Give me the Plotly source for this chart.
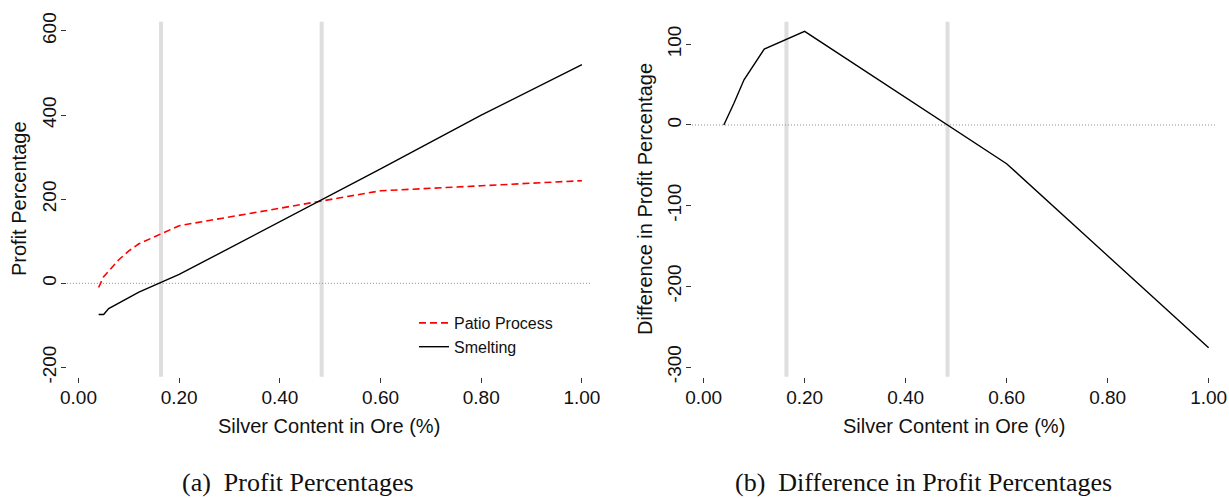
import plotly.graph_objects as go

# ---------------- data ----------------
silver_pct = [0.04, 0.05, 0.06, 0.08, 0.10, 0.12, 0.20, 0.40, 0.60, 0.80, 1.00]
patio_profit = [-10, 16, 29, 56, 77, 94, 137, 178, 220, 232, 244]
smelting_profit = [-74, -74, -60, -47, -34, -21, 21, 146, 272, 400, 520]

diff_silver_pct = [0.04, 0.05, 0.06, 0.08, 0.10, 0.12, 0.20, 0.40, 0.60, 0.80, 1.00]
diff_profit = [0, 13, 27, 56, 75, 94, 116, 34, -48, -162, -276]

crossover_x = [0.164, 0.483]

x_ticks = [0.0, 0.2, 0.4, 0.6, 0.8, 1.0]
x_tick_labels = ["0.00", "0.20", "0.40", "0.60", "0.80", "1.00"]
left_y_ticks = [-200, 0, 200, 400, 600]
left_y_labels = ["-200", "0", "200", "400", "600"]
right_y_ticks = [-300, -200, -100, 0, 100]
right_y_labels = ["-300", "-200", "-100", "0", "100"]

# ---------------- layout helpers ----------------
W, H = 1229, 498


def px_x(p):
    return p / W


def px_y(p):
    return (H - p) / H


SANS = "Liberation Sans, Arial, Helvetica, sans-serif"
SERIF = "Liberation Serif, Times New Roman, serif"
TICK_FONT = dict(family=SANS, size=19, color="#111")

fig = go.Figure()

fig.add_trace(go.Scatter(
    x=silver_pct, y=patio_profit, mode="lines", name="Patio Process",
    line=dict(color="#ff0000", width=1.6, dash="7px,4px"),
    xaxis="x", yaxis="y",
))
fig.add_trace(go.Scatter(
    x=silver_pct, y=smelting_profit, mode="lines", name="Smelting",
    line=dict(color="#000000", width=1.4),
    xaxis="x", yaxis="y",
))
fig.add_trace(go.Scatter(
    x=diff_silver_pct, y=diff_profit, mode="lines", name="Difference",
    line=dict(color="#000000", width=1.4), showlegend=False,
    xaxis="x2", yaxis="y2",
))

y_dom = [px_y(376.7), px_y(21.7)]
x_range = [-0.023, 1.016]

common_x = dict(
    range=x_range, tickmode="array", tickvals=x_ticks, ticktext=x_tick_labels,
    ticks="outside", ticklen=5, tickwidth=1, tickcolor="#333", showline=False,
    showgrid=False, zeroline=False, tickfont=TICK_FONT, ticklabelstandoff=-2,
    automargin=False,
)
common_y = dict(
    tickmode="array", ticks="outside", ticklen=5, tickwidth=1, tickcolor="#333",
    showline=False, showgrid=False, zeroline=False, tickfont=TICK_FONT,
    tickangle=-90, ticklabelstandoff=-3, automargin=False,
)

fig.update_layout(
    width=W, height=H,
    margin=dict(l=0, r=0, t=0, b=0, autoexpand=False),
    paper_bgcolor="white", plot_bgcolor="white",
    xaxis=dict(domain=[px_x(66.9), px_x(590)], anchor="y", **common_x),
    yaxis=dict(domain=y_dom, anchor="x", range=[-222, 622],
               tickvals=left_y_ticks, ticktext=left_y_labels, **common_y),
    xaxis2=dict(domain=[px_x(692), px_x(1216.7)], anchor="y2", **common_x),
    yaxis2=dict(domain=y_dom, anchor="x2", range=[-312, 128],
                tickvals=right_y_ticks, ticktext=right_y_labels, **common_y),
    legend=dict(
        x=px_x(414), y=px_y(306), xanchor="left", yanchor="top",
        bgcolor="rgba(0,0,0,0)", font=dict(family=SANS, size=16, color="#111"),
        tracegroupgap=0,
    ),
    showlegend=True,
)

shapes = []
for xr, yr in (("x", "y"), ("x2", "y2")):
    for cx in crossover_x:
        shapes.append(dict(
            type="line", xref=xr, yref=yr + " domain", x0=cx, x1=cx, y0=0, y1=1,
            line=dict(color="#dedede", width=4), layer="below",
        ))
    shapes.append(dict(
        type="line", xref=xr + " domain", yref=yr, x0=0, x1=1, y0=0, y1=0,
        line=dict(color="#8c8c8c", width=1, dash="1px,2px"), layer="below",
    ))
fig.update_layout(shapes=shapes)

ann_font = dict(family=SANS, size=20, color="#111")
cap_font = dict(family=SERIF, size=26, color="#111")
annotations = [
    dict(text="Silver Content in Ore (%)", x=px_x(328.5), y=px_y(426),
         xref="paper", yref="paper", showarrow=False, font=ann_font,
         xanchor="center", yanchor="middle"),
    dict(text="Silver Content in Ore (%)", x=px_x(954), y=px_y(426),
         xref="paper", yref="paper", showarrow=False, font=ann_font,
         xanchor="center", yanchor="middle"),
    dict(text="Profit Percentage", x=px_x(19), y=px_y(199),
         xref="paper", yref="paper", showarrow=False, font=ann_font,
         textangle=-90, xanchor="center", yanchor="middle"),
    dict(text="Difference in Profit Percentage", x=px_x(645), y=px_y(199),
         xref="paper", yref="paper", showarrow=False, font=ann_font,
         textangle=-90, xanchor="center", yanchor="middle"),
    dict(text="(a)  Profit Percentages", x=px_x(298), y=px_y(482),
         xref="paper", yref="paper", showarrow=False, font=cap_font,
         xanchor="center", yanchor="middle"),
    dict(text="(b)  Difference in Profit Percentages", x=px_x(923), y=px_y(482),
         xref="paper", yref="paper", showarrow=False, font=cap_font,
         xanchor="center", yanchor="middle"),
]
fig.update_layout(annotations=annotations)

fig.write_html(
    "out.html",
    config={"displayModeBar": False},
    post_script="document.body.style.margin='0';document.body.style.overflow='hidden';",
)
